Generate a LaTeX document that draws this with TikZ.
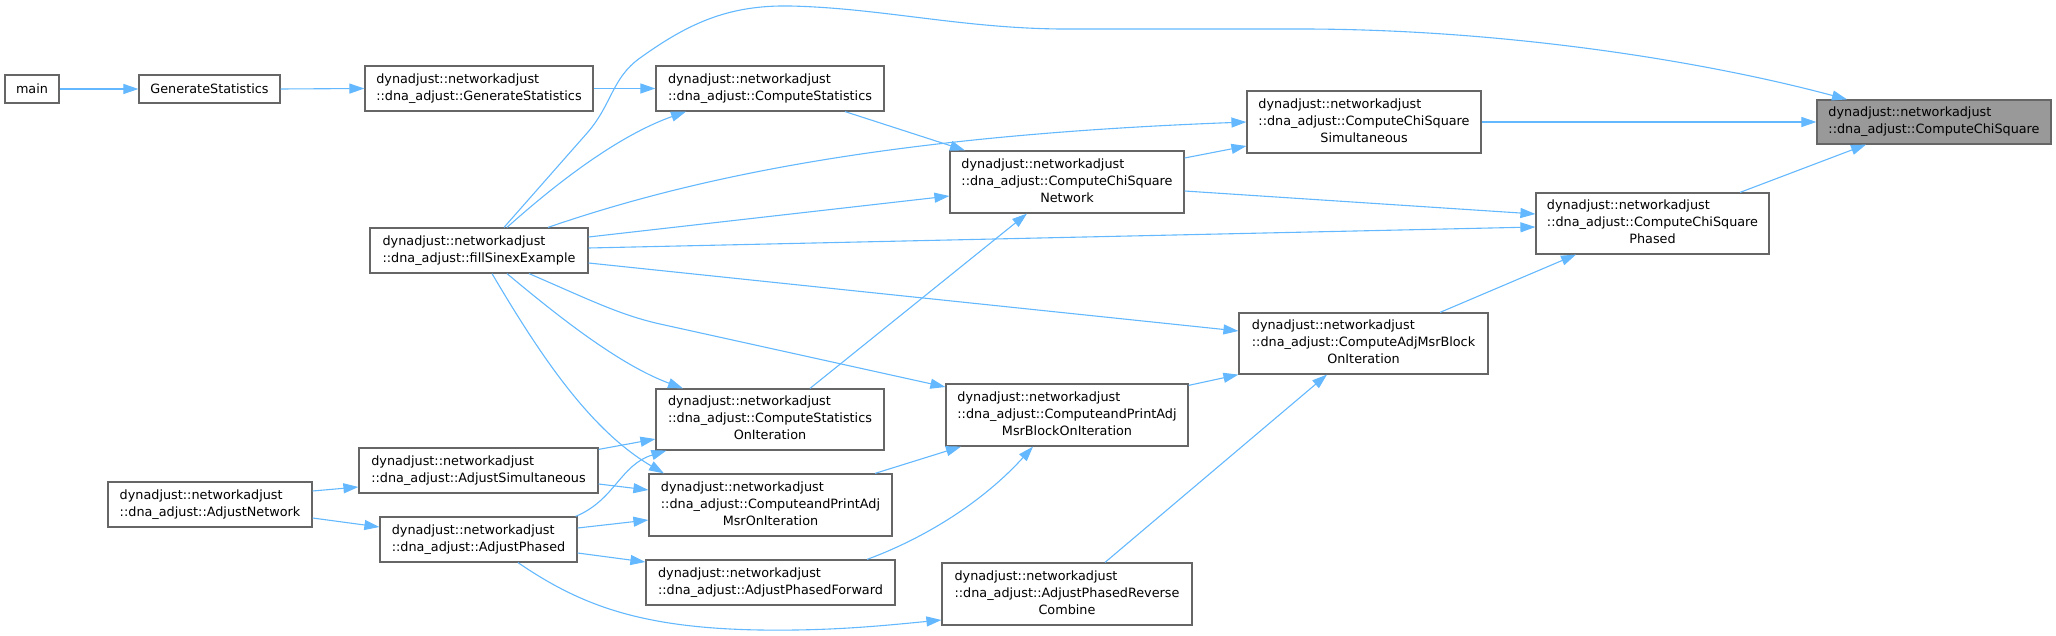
\documentclass[tikz,border=0pt]{standalone}
\usepackage{fontspec}
\setmainfont{DejaVu Sans}
\usepackage{tikz}
\usetikzlibrary{calc,arrows.meta}
\definecolor{edgeColor}{RGB}{99,184,255}
\definecolor{lineColor}{RGB}{102,102,102}
\definecolor{focusColor}{RGB}{153,153,153}
\newcommand{\graphfont}{\fontsize{6.4}{8.5}\selectfont}
\newcommand{\nsname}{dynadjust::networkadjust}
\newcommand{\twoline}[2]{\begin{tabular}{@{}l@{}}#1\\#2\end{tabular}}
\newcommand{\threeline}[3]{\begin{tabular}{@{}l@{}}#1\\#2\\\multicolumn{1}{@{}c@{}}{#3}\end{tabular}}

\begin{document}
\begin{tikzpicture}[x=0.5pt, y=-0.5pt,
        fn/.style 2 args={draw=lineColor, line width=0.6pt, fill=white, minimum width=#1*0.5pt, minimum height=#2*0.5pt, inner sep=0pt, font=\graphfont},
        focus/.style={fill=focusColor},
        arr/.style={-{Triangle[length=7.5pt,width=5pt]}, draw=edgeColor, line width=0.55pt}
      ]
      \useasboundingbox (0,0) rectangle (2056,636);

      \node[fn={54}{28}] (main) at (32,89) {main};
      \node[fn={141}{28}] (gstat) at (209.5,89) {GenerateStatistics};
      \node[fn={228}{45}] (dagen) at (479,88.5) {\twoline{\nsname}{::dna\_adjust::GenerateStatistics}};
      \node[fn={228}{45}] (cstat) at (770,88.5) {\twoline{\nsname}{::dna\_adjust::ComputeStatistics}};
      \node[fn={218}{45}] (fill) at (479,250.5) {\twoline{\nsname}{::dna\_adjust::fillSinexExample}};
      \node[fn={234}{62}] (chisim) at (1364,122) {\threeline{\nsname}{::dna\_adjust::ComputeChiSquare}{Simultaneous}};
      \node[fn={234}{62}] (chinet) at (1067,182) {\threeline{\nsname}{::dna\_adjust::ComputeChiSquare}{Network}};
      \node[fn={234}{44}, focus] (chisq) at (1934,122) {\twoline{\nsname}{::dna\_adjust::ComputeChiSquare}};
      \node[fn={233}{61}] (chiph) at (1652.5,223.5) {\threeline{\nsname}{::dna\_adjust::ComputeChiSquare}{Phased}};
      \node[fn={249}{61}] (blkit) at (1363.5,343.5) {\threeline{\nsname}{::dna\_adjust::ComputeAdjMsrBlock}{OnIteration}};
      \node[fn={228}{61}] (csit) at (770,419.5) {\threeline{\nsname}{::dna\_adjust::ComputeStatistics}{OnIteration}};
      \node[fn={242}{62}] (pblk) at (1067,415) {\threeline{\nsname}{::dna\_adjust::ComputeandPrintAdj}{MsrBlockOnIteration}};
      \node[fn={243}{62}] (pmsr) at (770.5,505) {\threeline{\nsname}{::dna\_adjust::ComputeandPrintAdj}{MsrOnIteration}};
      \node[fn={249}{45}] (fwd) at (770.5,582.5) {\twoline{\nsname}{::dna\_adjust::AdjustPhasedForward}};
      \node[fn={250}{62}] (rev) at (1067,594) {\threeline{\nsname}{::dna\_adjust::AdjustPhasedReverse}{Combine}};
      \node[fn={204}{45}] (anet) at (210,504.5) {\twoline{\nsname}{::dna\_adjust::AdjustNetwork}};
      \node[fn={239}{45}] (asim) at (478.5,470.5) {\twoline{\nsname}{::dna\_adjust::AdjustSimultaneous}};
      \node[fn={197}{45}] (aph) at (478.5,539.5) {\twoline{\nsname}{::dna\_adjust::AdjustPhased}};

      % top row
      \draw[arr] (main.east) -- (gstat.west);
      \draw[arr] (gstat.east) -- (dagen.west);
      \draw[arr] (dagen.east) -- (cstat.west);
      \draw[arr] ($(cstat.south)+(75,0)$) -- ($(chinet.north)+(-102,0)$);
      \draw[arr] ($(chinet.east)+(0,-24)$) -- ($(chisim.west)+(0,24)$);
      \draw[arr] (chisim.east) -- (chisq.west);
      \draw[arr] ($(chinet.east)+(0,9)$) -- ($(chiph.west)+(0,-9.5)$);
      \draw[arr] ($(chiph.north)+(87.5,0)$) -- ($(chisq.south)+(-68,0)$);
      \draw[arr] ($(blkit.north)+(76.5,0)$) -- ($(chiph.south)+(-76.5,0)$);

      % fillSinexExample
      \draw[arr] ($(fill.north)+(25,0)$) -- (588,132) .. controls (612,104) and (612,78) .. (640,58)
        .. controls (690,22) and (730,5) .. (790,6) .. controls (880,8) and (960,28) .. (1060,29)
        -- (1300,29) .. controls (1500,29) and (1700,60) .. ($(chisq.north)+(-87,0)$);
      \draw[arr] ($(fill.north)+(28,0)$) .. controls (560,180) and (620,135) .. ($(cstat.south)+(-84,0)$);
      \draw[arr] ($(fill.north)+(69,0)$) .. controls (700,175) and (900,135) .. (chisim.west);
      \draw[arr] ($(fill.east)+(0,-13.5)$) -- ($(chinet.west)+(0,14)$);
      \draw[arr] ($(fill.east)+(0,-2.5)$) -- ($(chiph.west)+(0,3.5)$);
      \draw[arr] ($(fill.east)+(0,12.5)$) -- ($(blkit.west)+(0,-12.5)$);
      \draw[arr] ($(fill.south)+(28,0)$) .. controls (560,318) and (620,365) .. ($(csit.north)+(-87,0)$);
      \draw[arr] ($(fill.south)+(50,0)$) .. controls (590,300) and (620,315) .. (660,324) -- ($(pblk.west)+(0,-28)$);
      \draw[arr] ($(fill.south)+(13,0)$) .. controls (540,355) and (590,430) .. ($(pmsr.north)+(-106.5,0)$);

      % iteration level
      \draw[arr] ($(csit.north)+(40,0)$) -- ($(chinet.south)+(-40,0)$);
      \draw[arr] ($(pblk.north east)+(0,2)$) -- (blkit.south west);
      \draw[arr] ($(rev.north)+(38,0)$) -- ($(blkit.south)+(-36.5,0)$);
      \draw[arr] ($(pmsr.north)+(104.5,0)$) -- ($(pblk.south)+(-106,0)$);
      \draw[arr] ($(fwd.north)+(96.5,0)$) .. controls (920,540) and (980,505) .. ($(pblk.south)+(-34,0)$);

      % adjust routines
      \draw[arr] ($(anet.east)+(0,-13.5)$) -- ($(asim.west)+(0,16.5)$);
      \draw[arr] ($(anet.east)+(0,13.5)$) -- ($(aph.west)+(0,-12.5)$);
      \draw[arr] ($(asim.north east)+(0,2)$) -- ($(csit.west)+(0,19.5)$);
      \draw[arr] ($(asim.east)+(0,13.5)$) -- ($(pmsr.west)+(0,-15)$);
      \draw[arr] ($(aph.north east)+(-2,0)$) .. controls (615,500) and (620,465) .. ($(csit.south west)+(11,0)$);
      \draw[arr] ($(aph.east)+(0,-11.5)$) -- ($(pmsr.west)+(0,15)$);
      \draw[arr] ($(aph.east)+(0,13.5)$) -- ($(fwd.west)+(0,-20.5)$);
      \draw[arr] ($(aph.south)+(39.5,0)$) .. controls (580,605) and (640,628) .. (760,630)
        .. controls (830,631) and (880,626) .. ($(rev.west)+(0,26)$);
    \end{tikzpicture}
\end{document}
